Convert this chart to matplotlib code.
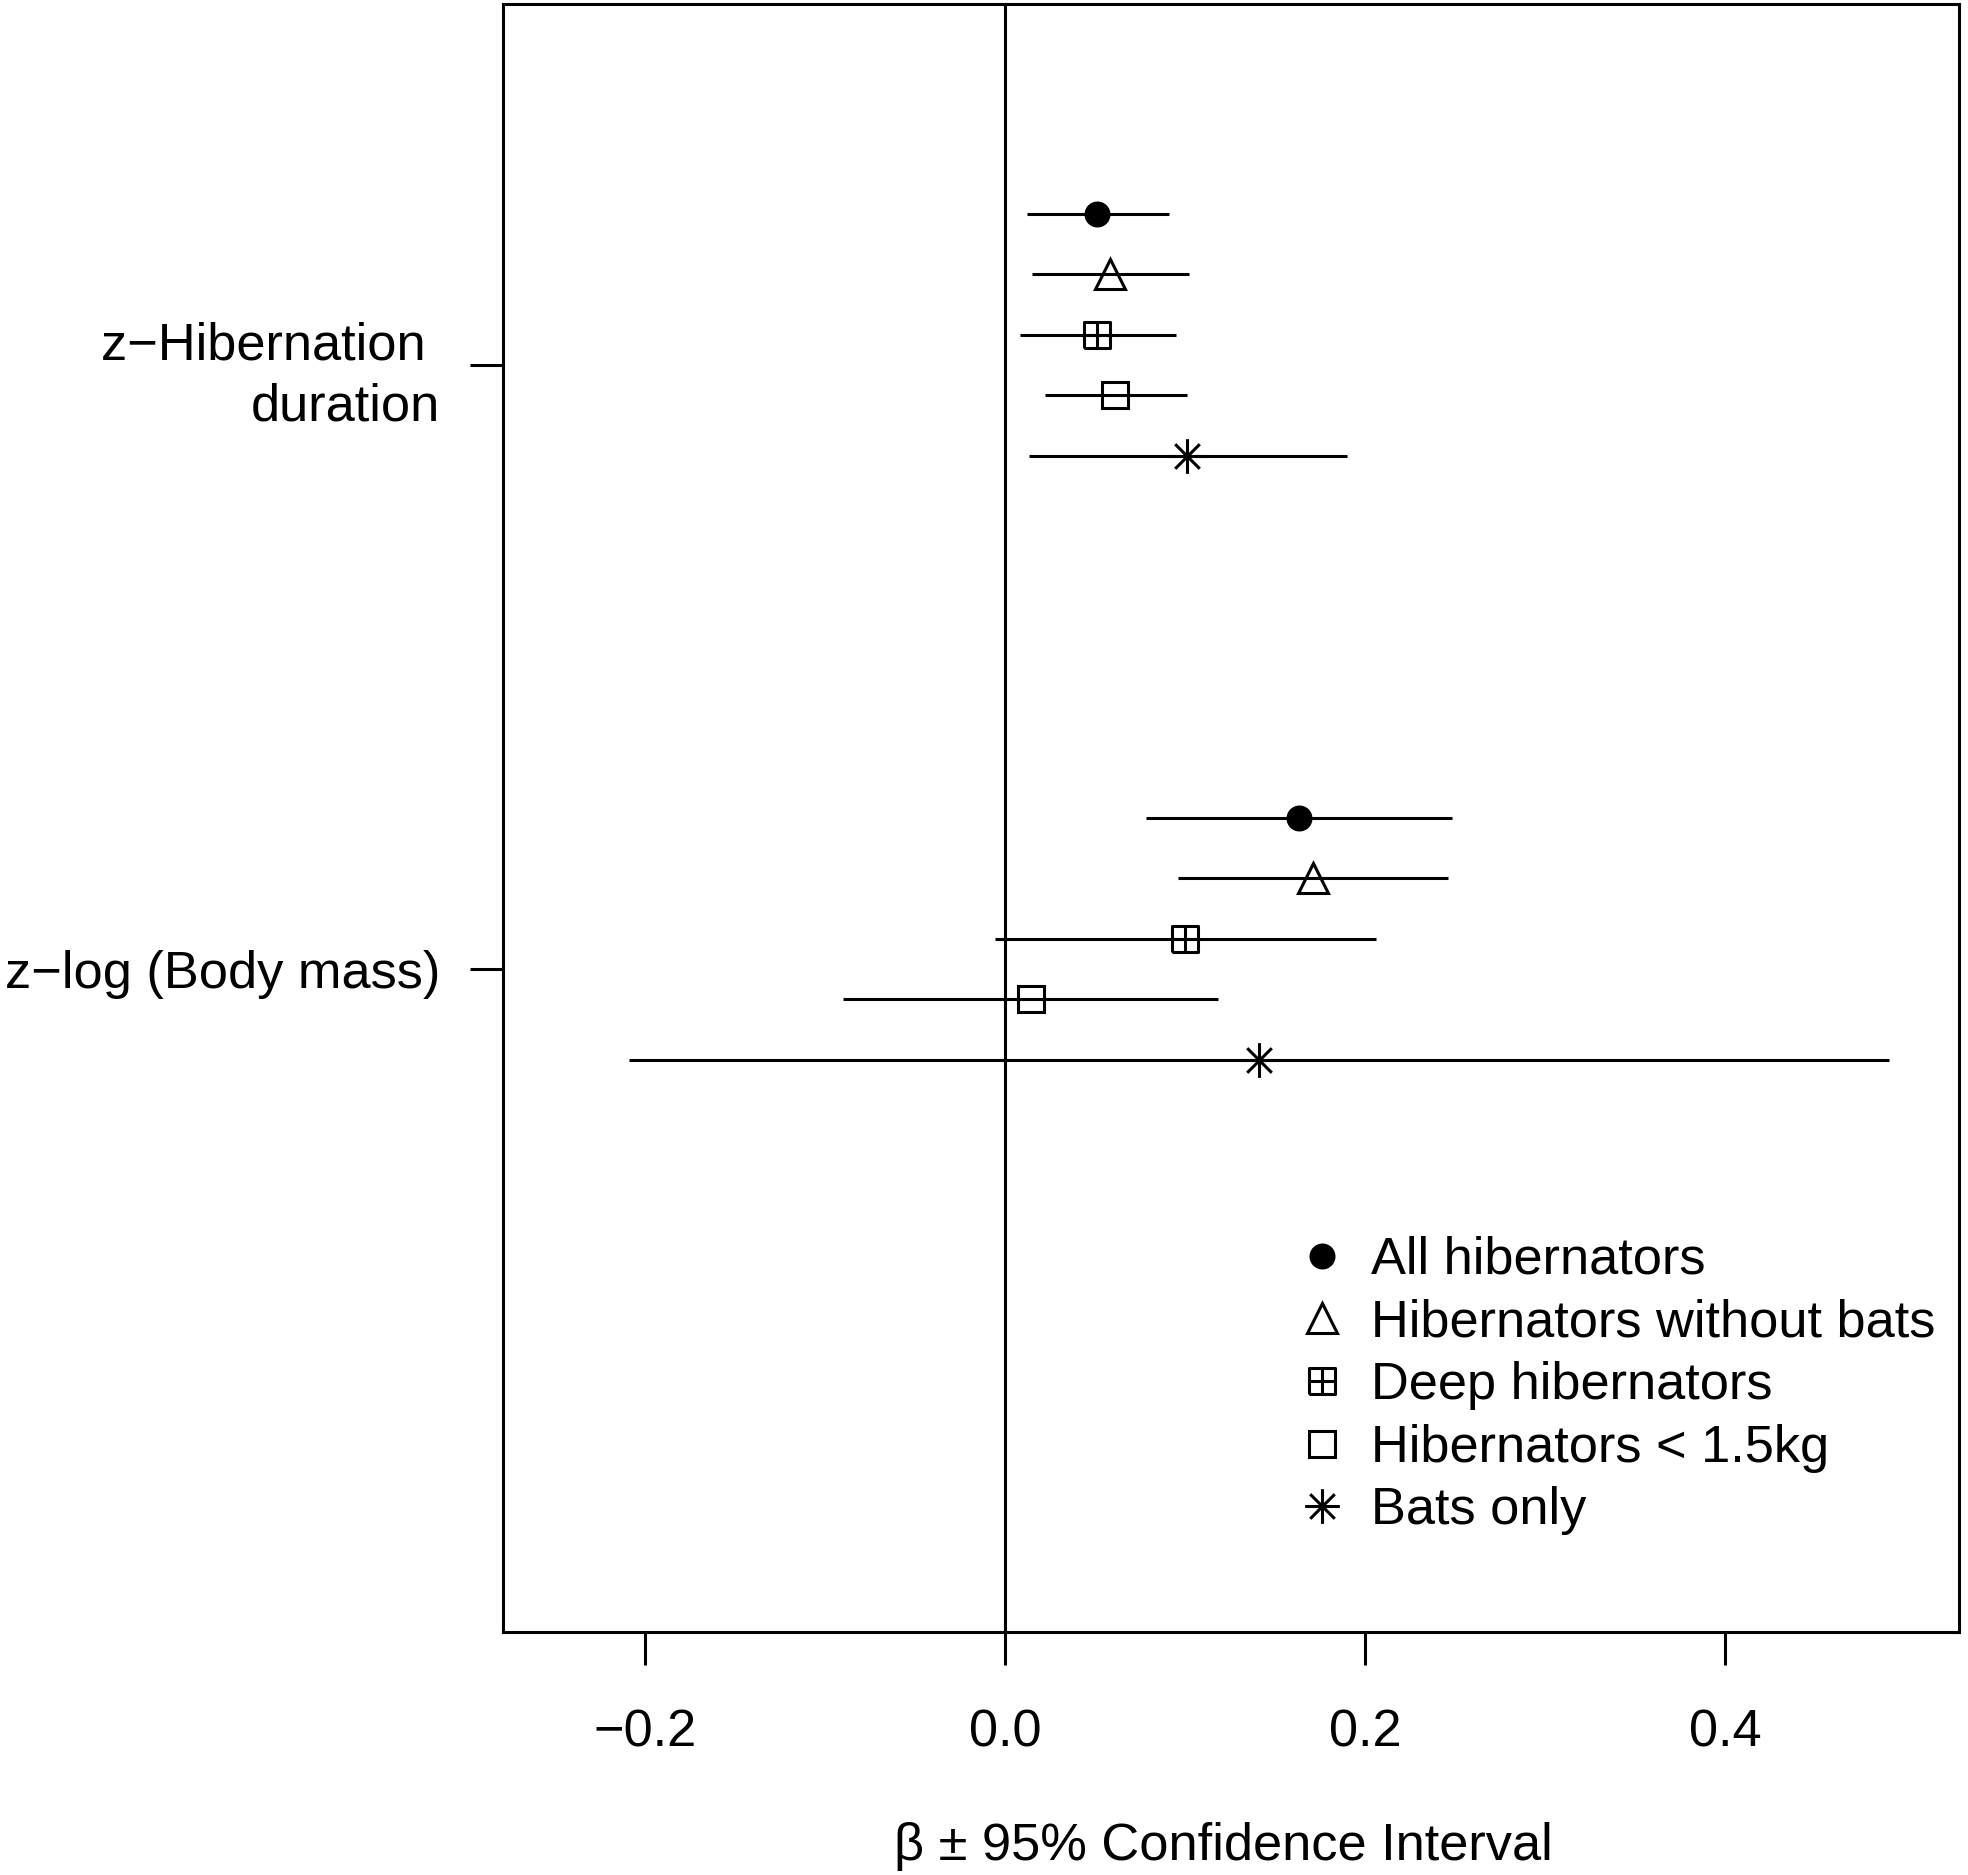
import numpy as np
import matplotlib
matplotlib.use('Agg')
import matplotlib.pyplot as plt
from matplotlib.path import Path

plt.rcParams['font.family'] = ['Liberation Sans', 'DejaVu Sans']

# predictors shown on the y axis (top to bottom)
predictors = ['z\u2212Hibernation \nduration', 'z\u2212log (Body mass)']
groups = ['All hibernators', 'Hibernators without bats', 'Deep hibernators',
          'Hibernators < 1.5kg', 'Bats only']

# estimates and 95% CI, one list per predictor, in group order
hib_est = [0.051, 0.058, 0.051, 0.061, 0.101]
hib_lo = [0.012, 0.015, 0.008, 0.022, 0.013]
hib_hi = [0.091, 0.102, 0.095, 0.101, 0.190]

mass_est = [0.163, 0.171, 0.100, 0.014, 0.141]
mass_lo = [0.078, 0.096, -0.006, -0.090, -0.209]
mass_hi = [0.248, 0.246, 0.206, 0.118, 0.491]

offsets = [-0.25, -0.15, -0.05, 0.05, 0.15]

# R-like point symbols
boxplus = Path([(-1, -1), (1, -1), (1, 1), (-1, 1), (-1, -1),
                (0, -1), (0, 1), (-1, 0), (1, 0)],
               [Path.MOVETO, Path.LINETO, Path.LINETO, Path.LINETO, Path.LINETO,
                Path.MOVETO, Path.LINETO, Path.MOVETO, Path.LINETO])
r2 = np.sqrt(2)
aster = Path([(0, -r2), (0, r2), (-r2, 0), (r2, 0),
              (-1, -1), (1, 1), (-1, 1), (1, -1)],
             [Path.MOVETO, Path.LINETO, Path.MOVETO, Path.LINETO,
              Path.MOVETO, Path.LINETO, Path.MOVETO, Path.LINETO])
markers = ['o', '^', boxplus, 's', aster]
msizes = [16.5, 22, 18.5, 18.5, 25]
filled = [True, False, False, False, False]

fs = 37.7

fig = plt.figure(figsize=(19.68, 18.75), dpi=100)
ax = fig.add_axes([0.2556, 0.1296, 0.9954 - 0.2556, 0.9979 - 0.1296])

lw = 2.2
ax.axvline(0, color='black', lw=lw, zorder=1)

estimates = [hib_est, mass_est]
lows = [hib_lo, mass_lo]
highs = [hib_hi, mass_hi]
for p in range(len(predictors)):
    for g in range(len(groups)):
        y = p + 1 + offsets[g]
        ax.plot([lows[p][g], highs[p][g]], [y, y], color='black', lw=lw,
                solid_capstyle='butt', zorder=2)
        ax.plot(estimates[p][g], y, linestyle='none', marker=markers[g],
                ms=msizes[g], mew=lw, mec='black',
                mfc='black' if filled[g] else 'none',
                label=groups[g] if p == 0 else None, zorder=3)

ax.set_xlim(-0.279, 0.5297)
ax.set_ylim(3.098, 0.402)
ax.set_xticks([-0.2, 0.0, 0.2, 0.4])
ax.set_xticklabels(['\u22120.2', '0.0', '0.2', '0.4'])
ax.set_yticks([1, 2])
ax.set_yticklabels(predictors, multialignment='right', linespacing=1.32)

ax.tick_params(axis='x', length=23.8, width=lw, pad=31, labelsize=fs)
ax.tick_params(axis='y', length=23.8, width=lw, pad=21.5, labelsize=fs)
for s in ax.spines.values():
    s.set_linewidth(lw)

ax.set_xlabel('\u03b2 \u00b1 95% Confidence Interval', fontsize=fs, labelpad=47)
ax.xaxis.label.set_x(0.4948)

ax.legend(loc='upper left', bbox_to_anchor=(0.659, 0.3408),
          bbox_transform=fig.transFigure, frameon=False, fontsize=fs,
          handlelength=0.954, handletextpad=0.458, labelspacing=0.26,
          borderpad=0, borderaxespad=0, numpoints=1)

fig.savefig('out.png', dpi=100)
